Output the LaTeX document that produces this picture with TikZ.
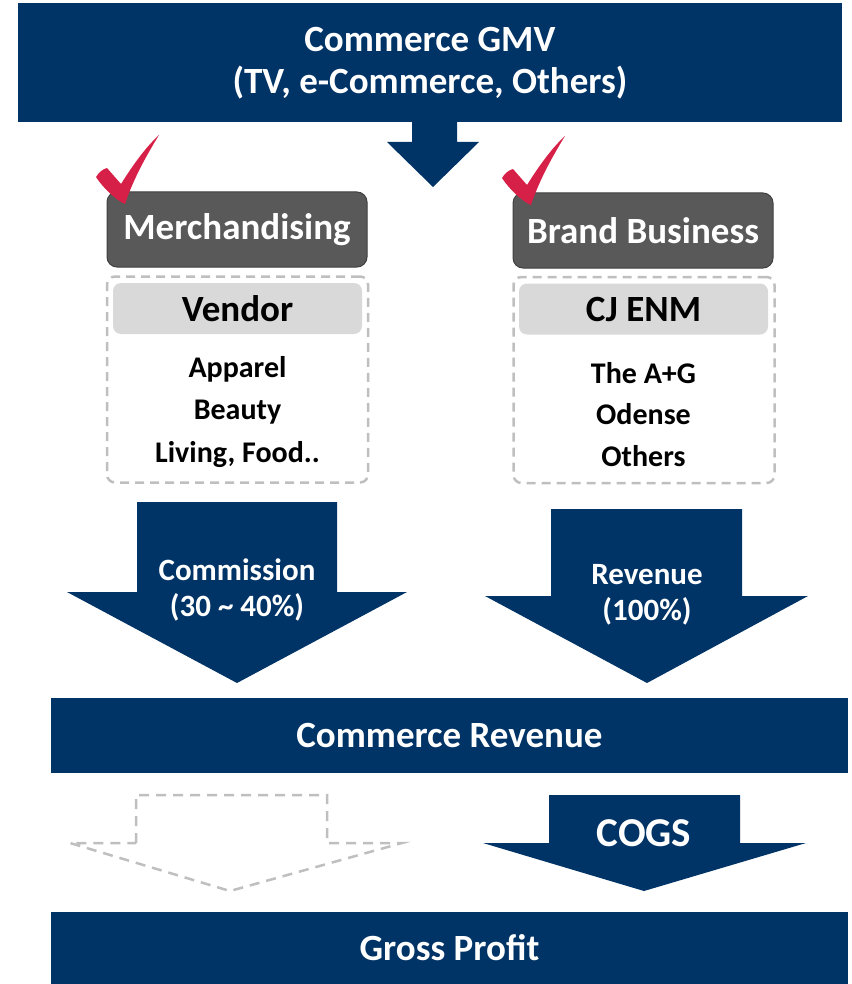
\documentclass[tikz,border=0pt]{standalone}
\usepackage{fontspec}
\setmainfont{Carlito}
\definecolor{navy}{RGB}{0,51,102}
\definecolor{boxgray}{RGB}{89,89,89}
\definecolor{headgray}{RGB}{217,217,217}
\definecolor{dashgray}{RGB}{191,191,191}
\definecolor{checkred}{RGB}{214,32,72}

\begin{document}
\begin{tikzpicture}[x=1pt,y=-1pt,inner sep=0pt,
  bar/.style={rectangle,fill=navy,text=white,font=\bfseries\fontsize{37}{42}\selectfont,align=center},
  segbox/.style={rectangle,rounded corners=10pt,fill=boxgray,draw=black!75,line width=1pt,text=white,
    font=\bfseries\fontsize{37}{42}\selectfont,minimum width=260pt,minimum height=75pt},
  dashbox/.style={rectangle,rounded corners=8pt,draw=dashgray,line width=2.5pt,dash pattern=on 9pt off 6pt,
    minimum width=261pt,minimum height=206pt},
  head/.style={rectangle,rounded corners=8pt,fill=headgray,font=\bfseries\fontsize{37}{42}\selectfont,
    minimum width=249pt,minimum height=51pt},
  items/.style={font=\bfseries\fontsize{30}{42.5}\selectfont,align=center},
  blockarr/.style={fill=navy},
  arrtext/.style={text=white,font=\bfseries\fontsize{31}{36}\selectfont,align=center},
  check/.style={fill=checkred}]
\useasboundingbox (0,0) rectangle (851,984);

% bars
\node (gmv) at (430,63) [bar,minimum width=824pt,minimum height=119pt] {Commerce GMV\\(TV, e-Commerce, Others)};
\node (crev) at (449.5,735.5) [bar,minimum width=797pt,minimum height=75pt] {Commerce Revenue};
\node (gp) at (449.5,948) [bar,minimum width=797pt,minimum height=72pt] {Gross Profit};

% block arrows
\path[blockarr] (412,120) -- (457,120) -- (457,142) -- (479,142) -- (433,187) -- (387,142) -- (412,142) -- cycle;
\path[blockarr] (137,502) -- (337,502) -- (337,592) -- (407,592) -- (237,683) -- (67,592) -- (137,592) -- cycle;
\path[blockarr] (551,509) -- (742,509) -- (742,596) -- (808,596) -- (647,683) -- (485,596) -- (551,596) -- cycle;
\path[blockarr] (549,795) -- (740,795) -- (740,843) -- (806,843) -- (644,891) -- (483,843) -- (549,843) -- cycle;
\draw[dashgray,line width=2.5pt,dash pattern=on 10pt off 7pt] (136,843) -- (136,795) -- (327,795) -- (327,843) -- (402,843) -- (230,891) -- (70,843) -- cycle;

\node (comm) at (237,590) [arrtext] {Commission\\(30 \textasciitilde{} 40\%)};
\node (rev) at (647,595) [arrtext] {Revenue\\(100\%)};
\node (cogs) at (644,833) [arrtext,font=\bfseries\fontsize{41}{44}\selectfont] {COGS};

% two segments
\node (merch) at (237,229.5) [segbox] {Merchandising};
\node (brand) at (643,230.5) [segbox] {Brand Business};

\node (vbox) at (237.5,379.5) [dashbox] {};
\node (vendor) at (237.5,308.5) [head] {Vendor};
\node (vlist) at (237.5,412) [items] {Apparel\\Beauty\\Living, Food..};

\node (bbox) at (644,380) [dashbox] {};
\node (cjenm) at (643.5,309) [head] {CJ ENM};
\node (blist) at (643.5,414.5) [items,font=\bfseries\fontsize{30}{41.5}\selectfont] {The A+G\\Odense\\Others};

% checks
\foreach \dx/\dy in {0/0,406/1}
  \path[check,shift={(\dx,\dy)}] (96,177) .. controls (99,172) and (103,169) .. (107,168) -- (121,184)
    .. controls (133,165) and (145,148) .. (159,135)
    .. controls (148,153) and (134,177) .. (125,204) .. controls (117,201) and (103,188) .. cycle;
\end{tikzpicture}
\end{document}
